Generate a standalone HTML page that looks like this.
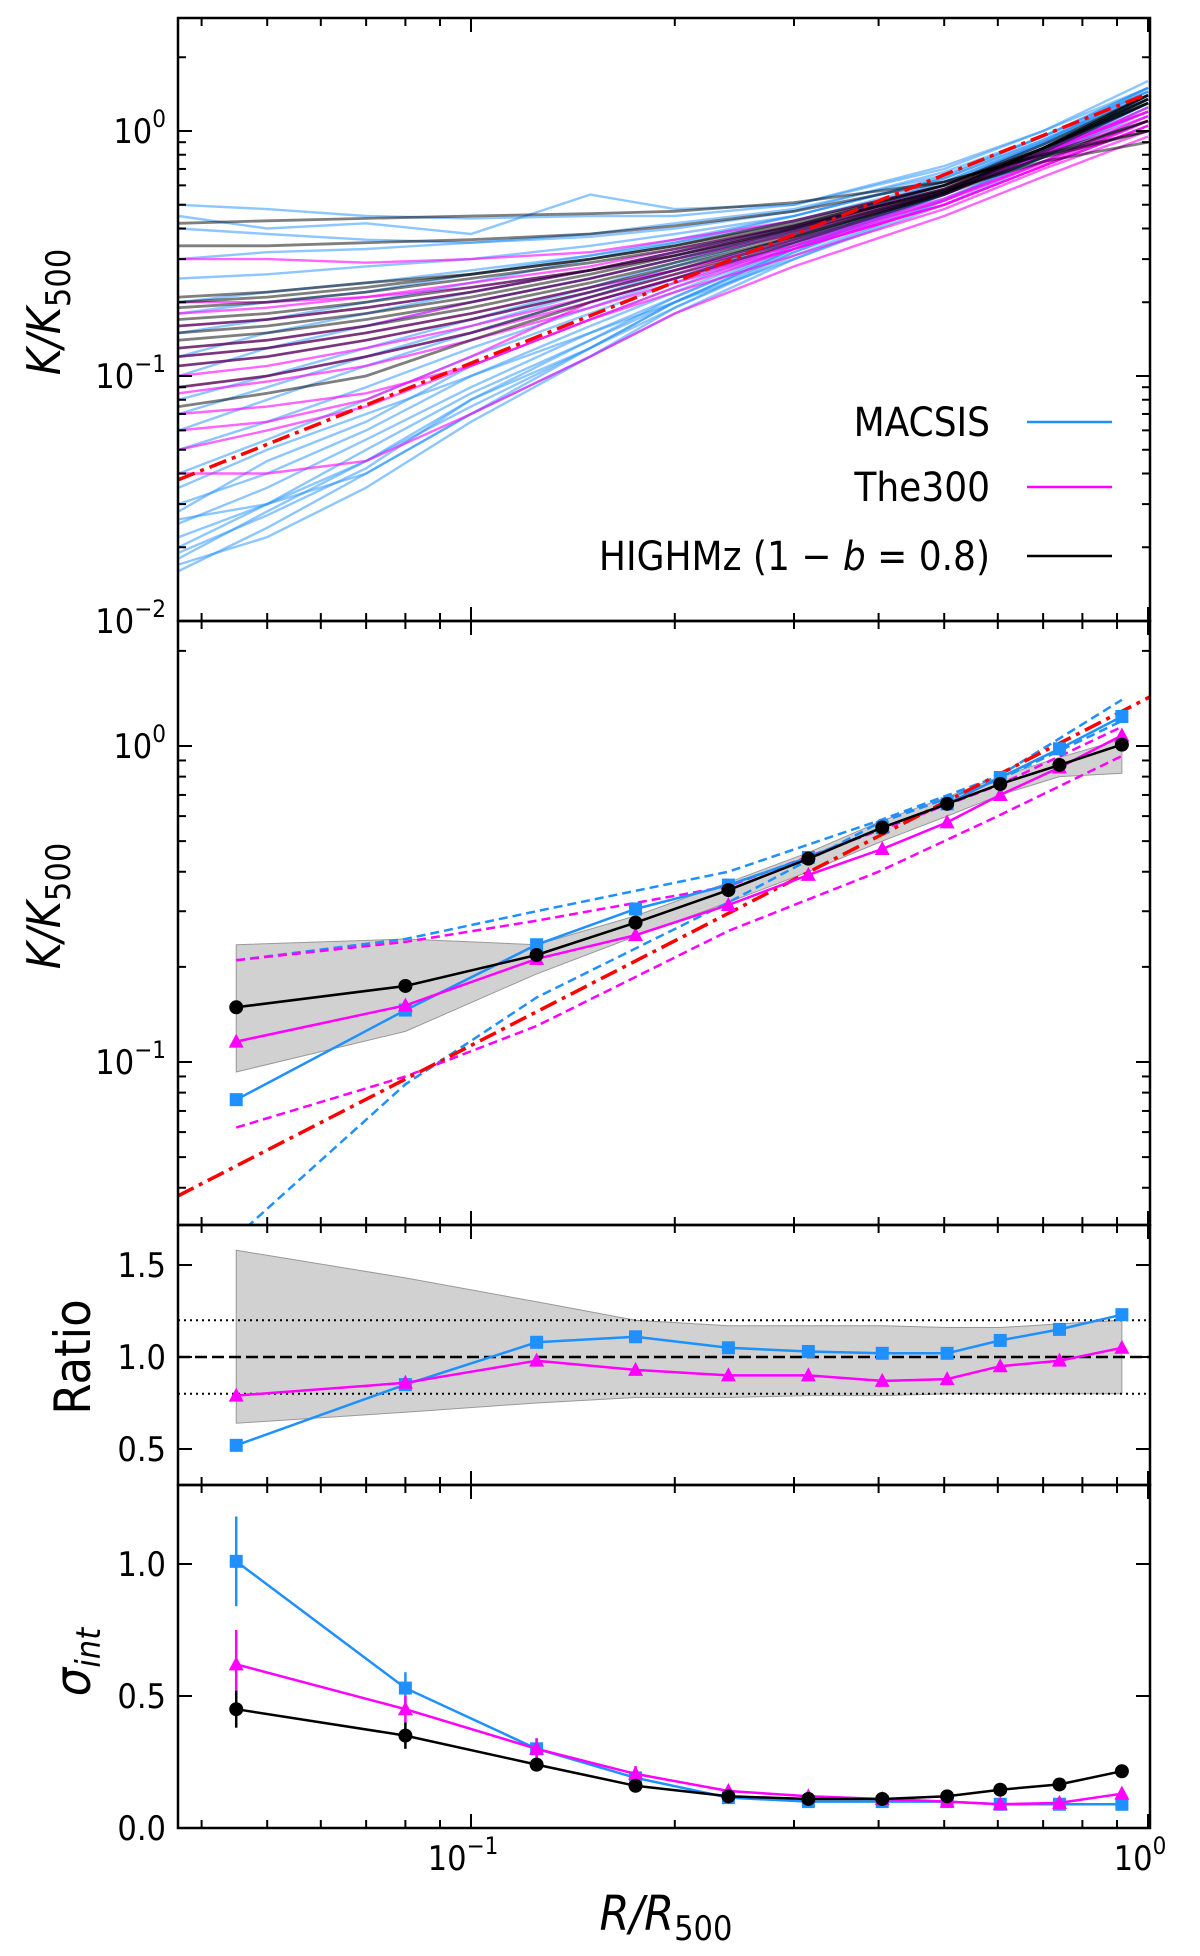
<!DOCTYPE html>
<html><head><meta charset="utf-8"><style>
html,body{margin:0;padding:0;background:#fff;}
svg{display:block;font-family:"DejaVu Sans Condensed","DejaVu Sans","Liberation Sans",sans-serif;font-stretch:condensed;}
</style></head><body>
<svg id="fig" width="1200" height="1956" viewBox="0 0 1200 1956" xmlns="http://www.w3.org/2000/svg">
<text transform="translate(60,312) rotate(-90)" text-anchor="middle" font-size="46" font-style="italic">K/K<tspan font-style="normal" font-size="34" dy="10">500</tspan></text>
<text transform="translate(60,906) rotate(-90)" text-anchor="middle" font-size="46" font-style="italic">K/K<tspan font-style="normal" font-size="34" dy="10">500</tspan></text>
<text transform="translate(90,1357) rotate(-90)" text-anchor="middle" font-size="50">Ratio</text>
<text transform="translate(90,1662) rotate(-90)" text-anchor="middle" font-size="50" font-style="italic">σ<tspan font-size="34" dy="10">int</tspan></text>
<text x="666" y="1930" text-anchor="middle" font-size="48" font-style="italic">R/R<tspan font-style="normal" font-size="34" dy="10">500</tspan></text>
</svg>
<script>
// ---------- data ----------
const radii = [0.045,0.08,0.125,0.175,0.24,0.315,0.405,0.505,0.605,0.74,0.915];
const kHighmz = [0.149,0.174,0.218,0.276,0.35,0.44,0.552,0.656,0.758,0.871,1.01];
const kMacsis = [0.076,0.146,0.235,0.305,0.363,0.444,0.552,0.656,0.795,0.98,1.24];
const kThe300 = [0.116,0.151,0.212,0.252,0.314,0.391,0.472,0.573,0.70,0.855,1.08];
const bandUpper = [0.235,0.245,0.235,0.29,0.37,0.46,0.58,0.69,0.80,0.92,1.05];
const bandLower = [0.093,0.125,0.19,0.25,0.32,0.40,0.50,0.60,0.70,0.80,0.82];
const dashR = [0.045,0.08,0.125,0.24,0.4,0.6,0.915];
const macsisHi = [0.21,0.245,0.30,0.40,0.58,0.80,1.40];
const macsisLo = [0.028,0.085,0.16,0.32,0.57,0.78,1.2];
const the300Hi = [0.21,0.24,0.28,0.36,0.54,0.75,1.15];
const the300Lo = [0.062,0.09,0.13,0.26,0.40,0.60,0.93];
const ratioMacsis = [0.52,0.85,1.08,1.11,1.05,1.03,1.02,1.02,1.09,1.15,1.23];
const ratioThe300 = [0.79,0.86,0.98,0.93,0.90,0.90,0.87,0.88,0.95,0.98,1.05];
const ratioBandHi = [1.58,1.43,1.30,1.20,1.17,1.17,1.17,1.16,1.16,1.18,1.20];
const ratioBandLo = [0.64,0.70,0.75,0.78,0.78,0.79,0.79,0.80,0.80,0.80,0.80];
const sigMacsis = [1.01,0.53,0.30,0.19,0.115,0.10,0.10,0.10,0.09,0.09,0.09];
const sigThe300 = [0.62,0.45,0.30,0.205,0.14,0.12,0.11,0.10,0.09,0.095,0.13];
const sigHighmz = [0.45,0.35,0.24,0.16,0.12,0.11,0.11,0.12,0.145,0.165,0.215];
const errMacsis = [0.17,0.06,0.04,0.02,0.01,0.01,0.01,0.01,0.01,0.01,0.01];
const errThe300 = [0.13,0.05,0.04,0.03,0.02,0.01,0.01,0.01,0.01,0.01,0.01];
const errHighmz = [0.07,0.05,0.02,0.02,0.01,0.01,0.01,0.01,0.01,0.01,0.02];
const fitAmp = 1.42, fitSlope = 1.1;
const profR = [0.037,0.05,0.07,0.1,0.15,0.2,0.3,0.5,0.7,1.0];
const macsisProfiles = [
[0.50,0.48,0.45,0.44,0.45,0.45,0.5,0.7,1.0,1.6],[0.45,0.40,0.42,0.38,0.55,0.48,0.5,0.72,1.0,1.5],
[0.30,0.32,0.33,0.35,0.37,0.40,0.47,0.68,0.95,1.5],[0.20,0.22,0.24,0.27,0.31,0.35,0.43,0.62,0.9,1.4],
[0.10,0.13,0.16,0.20,0.25,0.30,0.40,0.60,0.88,1.35],[0.06,0.08,0.11,0.15,0.21,0.27,0.37,0.57,0.85,1.3],
[0.04,0.055,0.08,0.12,0.18,0.24,0.35,0.56,0.82,1.3],[0.03,0.04,0.06,0.10,0.16,0.22,0.34,0.55,0.8,1.25],
[0.025,0.035,0.055,0.09,0.15,0.21,0.33,0.55,0.8,1.2],[0.02,0.03,0.05,0.085,0.14,0.2,0.32,0.53,0.78,1.2],
[0.016,0.024,0.04,0.07,0.12,0.18,0.3,0.5,0.75,1.15],[0.018,0.028,0.045,0.08,0.13,0.2,0.33,0.56,0.85,1.4],
[0.035,0.05,0.07,0.1,0.15,0.2,0.3,0.52,0.8,1.3],[0.15,0.17,0.2,0.24,0.3,0.35,0.45,0.65,0.95,1.5],
[0.08,0.1,0.13,0.17,0.23,0.29,0.4,0.62,0.9,1.45],[0.022,0.03,0.045,0.075,0.13,0.19,0.31,0.52,0.78,1.25],
[0.017,0.022,0.035,0.065,0.12,0.19,0.32,0.55,0.82,1.3],[0.026,0.03,0.04,0.07,0.13,0.2,0.33,0.55,0.82,1.35],
[0.40,0.38,0.36,0.35,0.38,0.42,0.48,0.66,0.95,1.45],[0.25,0.26,0.28,0.30,0.34,0.38,0.45,0.64,0.92,1.4],
[0.12,0.15,0.18,0.22,0.27,0.32,0.41,0.6,0.88,1.4],[0.05,0.065,0.09,0.13,0.19,0.25,0.36,0.57,0.85,1.35],
[0.028,0.045,0.065,0.11,0.17,0.23,0.35,0.56,0.84,1.3],[0.019,0.027,0.042,0.08,0.14,0.21,0.34,0.56,0.83,1.3],
[0.07,0.09,0.12,0.16,0.22,0.28,0.39,0.6,0.9,1.5],[0.18,0.2,0.22,0.26,0.31,0.36,0.45,0.64,0.92,1.45]];
const the300Profiles = [
[0.30,0.30,0.29,0.30,0.32,0.36,0.43,0.6,0.85,1.2],[0.20,0.20,0.21,0.23,0.27,0.31,0.39,0.56,0.8,1.15],
[0.12,0.13,0.15,0.18,0.23,0.27,0.36,0.53,0.75,1.1],[0.10,0.11,0.13,0.16,0.21,0.26,0.34,0.5,0.72,1.05],
[0.07,0.075,0.085,0.11,0.17,0.22,0.31,0.48,0.7,1.0],[0.04,0.04,0.045,0.07,0.12,0.18,0.28,0.45,0.65,0.95],
[0.05,0.06,0.075,0.11,0.17,0.23,0.33,0.5,0.72,1.05],[0.16,0.17,0.19,0.22,0.27,0.32,0.4,0.57,0.82,1.2],
[0.085,0.095,0.11,0.14,0.19,0.24,0.33,0.5,0.72,1.1],[0.13,0.14,0.16,0.2,0.25,0.3,0.38,0.55,0.8,1.25],
[0.11,0.12,0.14,0.17,0.22,0.27,0.35,0.52,0.74,1.1],[0.06,0.065,0.08,0.12,0.2,0.25,0.33,0.5,0.72,1.05],
[0.09,0.1,0.12,0.15,0.2,0.25,0.34,0.52,0.75,1.15],[0.18,0.19,0.21,0.24,0.28,0.33,0.41,0.58,0.82,1.2]];
const highmzProfiles = [
[0.42,0.43,0.44,0.45,0.46,0.47,0.51,0.62,0.8,1.0],[0.34,0.34,0.35,0.36,0.38,0.41,0.47,0.62,0.8,1.1],
[0.21,0.22,0.24,0.26,0.3,0.34,0.42,0.6,0.85,1.3],[0.17,0.18,0.2,0.23,0.27,0.31,0.4,0.58,0.85,1.35],
[0.13,0.14,0.16,0.19,0.24,0.29,0.38,0.57,0.85,1.4],[0.09,0.1,0.12,0.15,0.21,0.26,0.36,0.56,0.85,1.4],
[0.075,0.085,0.1,0.14,0.2,0.25,0.35,0.55,0.82,1.3],[0.14,0.15,0.17,0.2,0.25,0.3,0.39,0.56,0.78,1.0],
[0.19,0.2,0.22,0.25,0.29,0.33,0.41,0.57,0.75,0.9],[0.12,0.13,0.15,0.18,0.23,0.28,0.37,0.55,0.78,1.1],
[0.2,0.21,0.23,0.26,0.3,0.34,0.43,0.6,0.85,1.3],[0.15,0.16,0.18,0.21,0.26,0.31,0.4,0.58,0.85,1.35],
[0.11,0.12,0.14,0.17,0.22,0.27,0.37,0.56,0.84,1.35],[0.16,0.17,0.19,0.22,0.27,0.32,0.41,0.6,0.88,1.4]];
const yTicksLog1 = ["-2","-1","0"];
const yTicksLog2 = ["-1","0"];
const ratioTicks = ["0.5","1.0","1.5"];
const sigmaTicks = ["0.0","0.5","1.0"];

// ---------- geometry ----------
const NS="http://www.w3.org/2000/svg";
const svg=document.getElementById('fig');
const L=178,R=1150;
const xs=v=>471+677*(Math.log10(v)+1);
const P1={t:18,b:621}, P2={t:621,b:1225}, P3={t:1225,b:1485}, P4={t:1485,b:1828};
const y1=v=>131-245*Math.log10(v);
const y2=v=>746-316*Math.log10(v);
const y3=v=>1357-184*(v-1);
const y4=v=>1828-264*v;
const BLUE="#1E90FF", MAG="#FF00FF";
function mk(tag,attrs,parent){const e=document.createElementNS(NS,tag);for(const k in attrs)e.setAttribute(k,attrs[k]);(parent||svg).appendChild(e);return e;}
function pts(xa,ya,fy){return xa.map((x,i)=>xs(x).toFixed(1)+","+fy(ya[i]).toFixed(1)).join(" ");}
const defs=mk('defs',{});
[['c1',P1],['c2',P2],['c3',P3],['c4',P4]].forEach(([id,p])=>{const c=document.createElementNS(NS,'clipPath');c.setAttribute('id',id);const r=document.createElementNS(NS,'rect');r.setAttribute('x',L);r.setAttribute('y',p.t);r.setAttribute('width',R-L);r.setAttribute('height',p.b-p.t);c.appendChild(r);defs.appendChild(c);});

// ---------- panel 1 ----------
const g1=mk('g',{'clip-path':'url(#c1)'});


macsisProfiles.forEach(p=>{const e=mk('polyline',{points:pts(profR,p,y1),fill:'none',stroke:BLUE,'stroke-width':2.4,'stroke-opacity':0.5},g1);

});
the300Profiles.forEach(p=>{const e=mk('polyline',{points:pts(profR,p,y1),fill:'none',stroke:MAG,'stroke-width':2.4,'stroke-opacity':0.6},g1);

});
highmzProfiles.forEach(p=>{const e=mk('polyline',{points:pts(profR,p,y1),fill:'none',stroke:'#000','stroke-width':2.8,'stroke-opacity':0.5},g1);

});
const fitX=[0.0369,1.0];
const f1=mk('polyline',{points:pts(fitX,fitX.map(x=>fitAmp*Math.pow(x,fitSlope)),y1),fill:'none',stroke:'#FF0000','stroke-width':3.5,'stroke-dasharray':'18 6 4 6'},g1);



// legend
const legendItems=[["MACSIS",BLUE,422],["The300",MAG,487],["HIGHMz",'#000',556]];
legendItems.forEach(([lab,col,y],i)=>{
 const t=mk('text',{x:990,y:y+14,'text-anchor':'end','font-size':40});
 
 
 if(i<2)t.textContent=lab;else t.innerHTML='HIGHMz (1 − <tspan font-style="italic">b</tspan> = 0.8)';
 const l=mk('line',{x1:1027,x2:1112,y1:y,y2:y,stroke:col,'stroke-width':2.5});
 
 
});

// ---------- panel 2 ----------
const g2=mk('g',{'clip-path':'url(#c2)'});


const bandPts=radii.map((r,i)=>xs(r)+","+y2(bandUpper[i])).concat(radii.slice().reverse().map((r,j)=>xs(r)+","+y2(bandLower[radii.length-1-j])));
const b2=mk('polygon',{points:bandPts.join(" "),fill:'#bdbdbd','fill-opacity':0.7,stroke:'#999','stroke-width':1},g2);


[[macsisHi,BLUE],[macsisLo,BLUE],[the300Hi,MAG],[the300Lo,MAG]].forEach(([a,c])=>{
 const e=mk('polyline',{points:pts(dashR,a,y2),fill:'none',stroke:c,'stroke-width':2.5,'stroke-dasharray':'9 5'},g2);
 
 });
const fitX2=[0.03,1.1];
const f2=mk('polyline',{points:pts(fitX2,fitX2.map(x=>fitAmp*Math.pow(x,fitSlope)),y2),fill:'none',stroke:'#FF0000','stroke-width':3.5,'stroke-dasharray':'18 6 4 6'},g2);



function series(g,vals,fy,col,marker,name,err){
 const l=mk('polyline',{points:pts(radii,vals,fy),fill:'none',stroke:col,'stroke-width':2.5},g);
 
 
 radii.forEach((r,i)=>{
  const cx=xs(r), cy=fy(vals[i]);
  if(err){const e=mk('line',{x1:cx,x2:cx,y1:fy(vals[i]+err[i]),y2:fy(vals[i]-err[i]),stroke:col,'stroke-width':2.5},g);
   
   }
  let m;
  if(marker==='o')m=mk('circle',{cx:cx,cy:cy,r:7,fill:col},g);
  else if(marker==='s')m=mk('rect',{x:cx-6.5,y:cy-6.5,width:13,height:13,fill:col},g);
  else m=mk('polygon',{points:`${cx},${cy-8} ${cx+7.5},${cy+6} ${cx-7.5},${cy+6}`,fill:col},g);
  
  
 });
}
series(g2,kMacsis,y2,BLUE,'s','macsis-median');
series(g2,kThe300,y2,MAG,'^','the300-median');
series(g2,kHighmz,y2,'#000','o','highmz-median');

// ---------- panel 3 ----------
const g3=mk('g',{'clip-path':'url(#c3)'});


const rb=radii.map((r,i)=>xs(r)+","+y3(ratioBandHi[i])).concat(radii.slice().reverse().map((r,j)=>xs(r)+","+y3(ratioBandLo[radii.length-1-j])));
const b3=mk('polygon',{points:rb.join(" "),fill:'#bdbdbd','fill-opacity':0.7,stroke:'#999','stroke-width':1},g3);


[[1.2,'2 4',2],[0.8,'2 4',2],[1.0,'12 5',2.5]].forEach(([v,d,w])=>{const e=mk('line',{x1:L,x2:R,y1:y3(v),y2:y3(v),stroke:'#000','stroke-width':w,'stroke-dasharray':d},g3);
 
 });
series(g3,ratioMacsis,y3,BLUE,'s','macsis-ratio');
series(g3,ratioThe300,y3,MAG,'^','the300-ratio');

// ---------- panel 4 ----------
const g4=mk('g',{'clip-path':'url(#c4)'});


series(g4,sigMacsis,y4,BLUE,'s','macsis-sigma',errMacsis);
series(g4,sigThe300,y4,MAG,'^','the300-sigma',errThe300);
series(g4,sigHighmz,y4,'#000','o','highmz-sigma',errHighmz);

// ---------- axes ----------
const xMajor=[0.1,1.0];
const xMinor=[0.04,0.05,0.06,0.07,0.08,0.09,0.2,0.3,0.4,0.5,0.6,0.7,0.8,0.9];
function tick(x1,y1_,x2,y2_){const e=mk('line',{x1:x1,y1:y1_,x2:x2,y2:y2_,stroke:'#000','stroke-width':2});
 
 }
function frame(p,name){
 const r=mk('rect',{x:L,y:p.t,width:R-L,height:p.b-p.t,fill:'none',stroke:'#000','stroke-width':2.5});
 
 
 xMajor.forEach(v=>{const x=xs(v);if(x>R)return;tick(x,p.b,x,p.b-14);tick(x,p.t,x,p.t+14);});
 xMinor.forEach(v=>{const x=xs(v);tick(x,p.b,x,p.b-8);tick(x,p.t,x,p.t+8);});
}
function yTicksLog(p,fy,exps){
 for(let d=-3;d<=1;d++){for(let m=1;m<10;m++){const v=m*Math.pow(10,d);const y=fy(v);if(y<p.t+1||y>p.b-1&&!(m===1&&y<=p.b+1))continue;
  const len=m===1?14:8;tick(L,y,L+len,y);tick(R,y,R-len,y);}}
 exps.forEach(e=>{const y=fy(Math.pow(10,+e));const t=mk('text',{x:166,y:y+12,'text-anchor':'end','font-size':34});
  
  
  t.innerHTML='10<tspan font-size="24" dy="-16">'+(e.startsWith('-')?'−'+e.slice(1):e)+'</tspan>';});
}
function yTicksLin(p,fy,labels){
 labels.forEach(s=>{const y=fy(+s);tick(L,y,L+14,y);tick(R,y,R-14,y);
  const t=mk('text',{x:166,y:y+12,'text-anchor':'end','font-size':34});
  
  
  t.textContent=s;});
}
frame(P1,'panel1');frame(P2,'panel2');frame(P3,'panel3');frame(P4,'panel4');
yTicksLog(P1,y1,yTicksLog1);
yTicksLog(P2,y2,yTicksLog2);
yTicksLin(P3,y3,ratioTicks);
yTicksLin(P4,y4,sigmaTicks);
[["-1",0.1],["0",1.0]].forEach(([e,v])=>{const t=mk('text',{x:xs(v)-8,y:1870,'text-anchor':'middle','font-size':34});
 
 
 t.innerHTML='10<tspan font-size="24" dy="-16">'+(e==='-1'?'−1':'0')+'</tspan>';});
</script>
</body></html>
